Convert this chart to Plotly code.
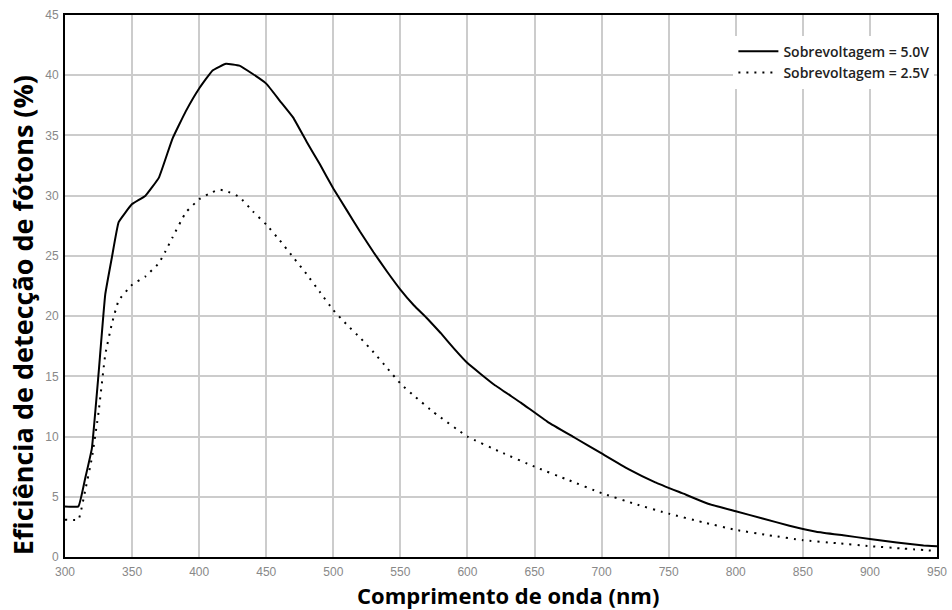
import plotly.graph_objects as go

# Wavelength (nm) and photon detection efficiency (%) for each overvoltage
wl_5v = [300, 310, 315, 320, 325, 330, 335, 340, 350, 360, 370, 380, 390, 400, 410, 420, 430, 440,
         450, 460, 470, 480, 490, 500, 510, 520, 530, 540, 550, 560, 570, 580, 590, 600, 620, 640,
         660, 680, 700, 720, 740, 760, 780, 800, 820, 840, 860, 880, 900, 920, 940, 950]
pde_5v = [4.2, 4.2, 6.5, 9.0, 15.2, 21.8, 24.9, 27.8, 29.3, 30.0, 31.5, 34.7, 37.0, 38.9, 40.4, 40.95, 40.8, 40.1,
          39.3, 37.9, 36.5, 34.5, 32.6, 30.6, 28.8, 27.0, 25.3, 23.7, 22.2, 20.9, 19.8, 18.6, 17.3, 16.1, 14.3, 12.8,
          11.2, 9.9, 8.6, 7.3, 6.2, 5.3, 4.4, 3.8, 3.2, 2.6, 2.1, 1.8, 1.5, 1.2, 0.95, 0.9]

wl_25v = [300, 310, 315, 320, 325, 330, 335, 340, 350, 360, 370, 375, 380, 390, 400, 410, 415, 420, 430,
          440, 450, 460, 470, 480, 490, 500, 510, 520, 530, 540, 550, 560, 575, 600, 625, 650, 675,
          700, 725, 750, 775, 800, 825, 850, 875, 900, 925, 950]
pde_25v = [3.1, 3.1, 5.5, 8.2, 12.0, 16.8, 19.4, 21.3, 22.6, 23.3, 24.4, 25.4, 26.5, 28.6, 29.7, 30.3, 30.5, 30.4, 29.9,
           28.7, 27.6, 26.3, 24.9, 23.5, 22.0, 20.5, 19.3, 18.2, 17.0, 15.7, 14.4, 13.4, 12.0, 10.0, 8.7, 7.5, 6.4,
           5.3, 4.4, 3.6, 2.9, 2.25, 1.8, 1.4, 1.15, 0.9, 0.7, 0.5]

series_names = ["Sobrevoltagem = 5.0V", "Sobrevoltagem = 2.5V"]
x_ticks = list(range(300, 951, 50))
y_ticks = list(range(0, 46, 5))
x_title = "Comprimento de onda (nm)"
y_title = "Eficiência de detecção de fótons (%)"

fig = go.Figure()
fig.add_trace(go.Scatter(x=wl_5v, y=pde_5v, mode="lines", name=series_names[0],
                         line=dict(color="black", width=2, shape="spline", smoothing=0.3)))
fig.add_trace(go.Scatter(x=wl_25v, y=pde_25v, mode="lines", name=series_names[1],
                         line=dict(color="black", width=2, dash="2px,6px", shape="spline", smoothing=0.3)))

axis_common = dict(
    showgrid=True, gridcolor="#cccccc", gridwidth=2,
    showline=True, linecolor="black", linewidth=2, mirror=True,
    ticks="", zeroline=False, automargin=False,
    tickfont=dict(family="Liberation Sans", size=12, color="#888888"),
)

fig.update_layout(
    width=952, height=610,
    margin=dict(l=65, r=15, t=15, b=53),
    plot_bgcolor="white", paper_bgcolor="white",
    xaxis=dict(range=[300, 950], tickvals=x_ticks, ticklabelstandoff=3, **axis_common),
    yaxis=dict(range=[0, 45], tickvals=y_ticks, ticklabelstandoff=2, **axis_common),
    legend=dict(x=0.997, xanchor="right", y=0.962, yanchor="top", bgcolor="white",
                font=dict(family="Open Sans", size=14, color="#222222", weight=600),
                tracegroupgap=0, itemwidth=40),
    showlegend=True,
    annotations=[
        dict(text=x_title, xref="paper", yref="paper", x=0.5075, y=-0.0692,
             xanchor="center", yanchor="middle", showarrow=False,
             font=dict(family="Open Sans", size=22, color="black", weight="bold")),
        dict(text=y_title, xref="paper", yref="paper", x=-0.048, y=0.4465, textangle=-90,
             xanchor="center", yanchor="middle", showarrow=False,
             font=dict(family="Open Sans", size=27, color="black", weight="bold")),
    ],
)

fig.write_html("out.html", config={"displayModeBar": False},
               post_script="document.body.style.margin='0';document.body.style.overflow='hidden';")
